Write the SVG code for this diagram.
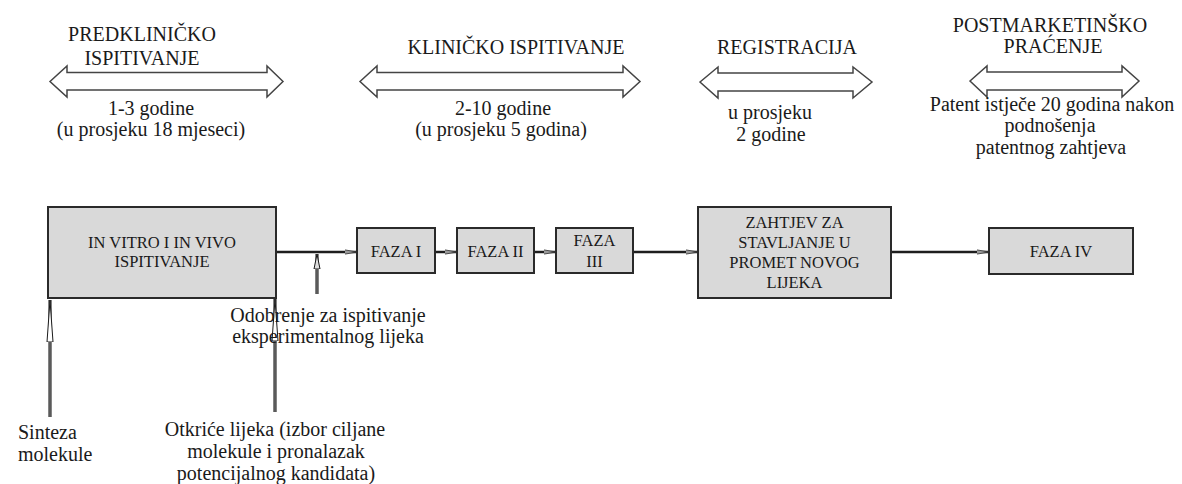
<svg xmlns="http://www.w3.org/2000/svg" width="1182" height="484" viewBox="0 0 1182 484">
<defs>
<style>
text{font-family:"Liberation Serif","Times New Roman",serif;fill:#1a1a1a;text-anchor:middle}
.lbl{font-size:20px}
.box text{font-size:16.5px}
.box rect{fill:#d9d9d9;stroke:#2a2a2a;stroke-width:2}
.barrow{fill:#fff;stroke:#444;stroke-width:1.5;stroke-linejoin:miter}
.conn{stroke:#1e1e1e;stroke-width:2.5;fill:none}
.vconn{stroke:#5a5a5a;stroke-width:3.5;fill:none}
</style>
<marker id="hsmall" viewBox="0 -3 13 6" markerWidth="13" markerHeight="6" refX="12.5" refY="0" orient="auto" markerUnits="userSpaceOnUse">
<path d="M0,-2.2 L12.5,0 L0,2.2 Z" fill="#9a9a9a" stroke="#333" stroke-width="0.8"/>
</marker>
<marker id="vlong" viewBox="0 -4 44 8" markerWidth="44" markerHeight="8" refX="42" refY="0" orient="auto" markerUnits="userSpaceOnUse">
<path d="M0,-3 L42,0 L0,3 Z" fill="#fff" stroke="#1a1a1a" stroke-width="1"/>
</marker>
<marker id="vshort" viewBox="0 -4 16 8" markerWidth="16" markerHeight="8" refX="15" refY="0" orient="auto" markerUnits="userSpaceOnUse">
<path d="M0,-3 L15,0 L0,3 Z" fill="#ddd" stroke="#1a1a1a" stroke-width="1"/>
</marker>
</defs>
<rect width="1182" height="484" fill="#fff"/>

<g id="phase-predklinicko">
<polygon class="barrow" points="50,81.5 67,66 67,72.5 267,72.5 267,66 283,81.5 267,97 267,90 67,90 67,97"/>
<text class="lbl" x="142" y="41">PREDKLINIČKO</text>
<text class="lbl" x="142" y="65">ISPITIVANJE</text>
<text class="lbl" x="151" y="115">1-3 godine</text>
<text class="lbl" x="151" y="136">(u prosjeku 18 mjeseci)</text>
</g>

<g id="phase-klinicko">
<polygon class="barrow" points="360,81.5 377,66 377,72.5 623,72.5 623,66 640,81.5 623,97 623,90 377,90 377,97"/>
<text class="lbl" x="516" y="54">KLINIČKO ISPITIVANJE</text>
<text class="lbl" x="503" y="115">2-10 godine</text>
<text class="lbl" x="501" y="136">(u prosjeku 5 godina)</text>
</g>

<g id="phase-registracija">
<polygon class="barrow" points="700,82 718,67 718,73 853,73 853,67 872,82 853,98 853,91 718,91 718,98"/>
<text class="lbl" x="787" y="54">REGISTRACIJA</text>
<text class="lbl" x="770" y="119">u prosjeku</text>
<text class="lbl" x="771" y="141">2 godine</text>
</g>

<g id="phase-postmarketinsko">
<polygon class="barrow" points="970,81 987,66 987,72 1122,72 1122,66 1139,81 1122,97 1122,90 987,90 987,97"/>
<text class="lbl" x="1050" y="32">POSTMARKETINŠKO</text>
<text class="lbl" x="1053" y="53">PRAĆENJE</text>
<text class="lbl" x="1052" y="111">Patent istječe 20 godina nakon</text>
<text class="lbl" x="1050" y="132">podnošenja</text>
<text class="lbl" x="1051" y="154">patentnog zahtjeva</text>
</g>

<g id="connectors">
<line class="conn" x1="276" y1="252" x2="357" y2="252" marker-end="url(#hsmall)"/>
<line class="conn" x1="435" y1="252" x2="457" y2="252" marker-end="url(#hsmall)"/>
<line class="conn" x1="534" y1="252" x2="556" y2="252" marker-end="url(#hsmall)"/>
<line class="conn" x1="633" y1="252" x2="698" y2="252" marker-end="url(#hsmall)"/>
<line class="conn" x1="891" y1="252" x2="989" y2="252" marker-end="url(#hsmall)"/>
<line class="vconn" x1="317" y1="294" x2="317" y2="254" marker-end="url(#vshort)"/>
<line class="vconn" x1="50" y1="417" x2="50" y2="300" marker-end="url(#vlong)"/>
<line class="vconn" x1="275" y1="412" x2="275" y2="299" marker-end="url(#vlong)"/>
</g>

<g id="node-invitro" class="box">
<rect x="48" y="207" width="228" height="91"/>
<text x="162" y="248">IN VITRO I IN VIVO</text>
<text x="162" y="267">ISPITIVANJE</text>
</g>

<g id="node-faza1" class="box">
<rect x="357" y="228" width="78" height="45"/>
<text x="396" y="257">FAZA I</text>
</g>

<g id="node-faza2" class="box">
<rect x="457" y="228" width="77" height="45"/>
<text x="495.5" y="257">FAZA II</text>
</g>

<g id="node-faza3" class="box">
<rect x="556" y="228" width="77" height="45"/>
<text x="594.5" y="246">FAZA</text>
<text x="594.5" y="267">III</text>
</g>

<g id="node-zahtjev" class="box">
<rect x="698" y="207" width="193" height="91"/>
<text x="794.5" y="228">ZAHTJEV ZA</text>
<text x="794.5" y="248">STAVLJANJE U</text>
<text x="794.5" y="268">PROMET NOVOG</text>
<text x="794.5" y="288">LIJEKA</text>
</g>

<g id="node-faza4" class="box">
<rect x="989" y="228" width="144" height="46"/>
<text x="1061" y="257">FAZA IV</text>
</g>

<g id="label-odobrenje">
<text class="lbl" x="328" y="322">Odobrenje za ispitivanje</text>
<text class="lbl" x="328" y="343">eksperimentalnog lijeka</text>
</g>

<g id="label-sinteza">
<text class="lbl" x="18" y="439" style="text-anchor:start">Sinteza</text>
<text class="lbl" x="18" y="461" style="text-anchor:start">molekule</text>
</g>

<g id="label-otkrice">
<text class="lbl" x="275" y="436">Otkriće lijeka (izbor ciljane</text>
<text class="lbl" x="276" y="458">molekule i pronalazak</text>
<text class="lbl" x="276" y="480">potencijalnog kandidata)</text>
</g>
</svg>
